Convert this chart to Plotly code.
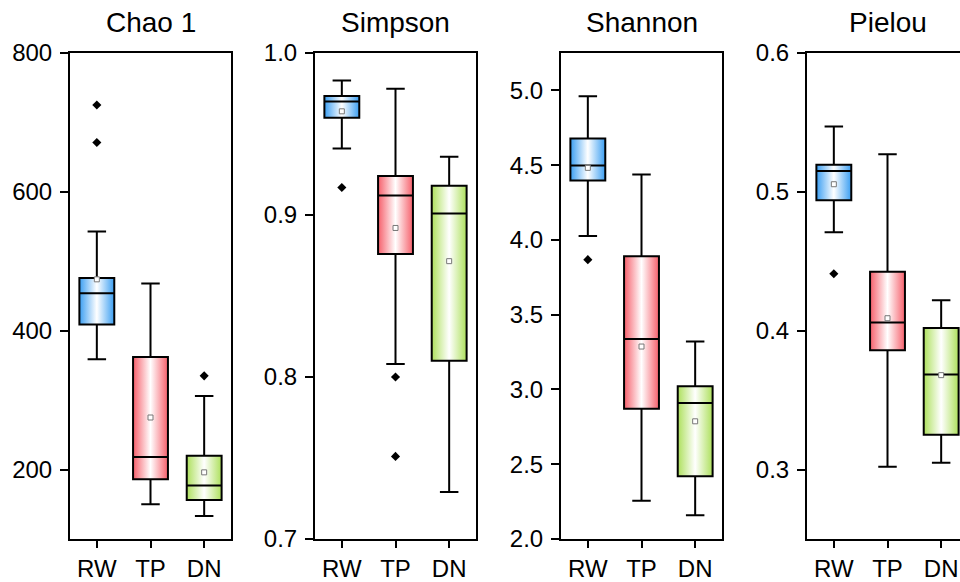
import plotly.graph_objects as go

# ---------------- data ----------------
groups = ["RW", "TP", "DN"]
titles = ["Chao 1", "Simpson", "Shannon", "Pielou"]

chao_lower = [359, 150, 133]
chao_q1 = [409, 186, 156]
chao_median = [454, 218, 177]
chao_q3 = [476, 362, 220]
chao_upper = [543, 468, 306]
chao_mean = [474, 275, 196]
chao_outliers = [[725, 671], [], [335]]
chao_ticks = [200, 400, 600, 800]
chao_ticktext = ["200", "400", "600", "800"]

simpson_lower = [0.941, 0.808, 0.729]
simpson_q1 = [0.960, 0.876, 0.810]
simpson_median = [0.970, 0.912, 0.901]
simpson_q3 = [0.9735, 0.924, 0.918]
simpson_upper = [0.983, 0.978, 0.936]
simpson_mean = [0.964, 0.892, 0.8715]
simpson_outliers = [[0.917], [0.800, 0.751], []]
simpson_ticks = [0.7, 0.8, 0.9, 1.0]
simpson_ticktext = ["0.7", "0.8", "0.9", "1.0"]

shannon_lower = [4.026, 2.255, 2.158]
shannon_q1 = [4.398, 2.871, 2.419]
shannon_median = [4.497, 3.338, 2.910]
shannon_q3 = [4.679, 3.890, 3.022]
shannon_upper = [4.960, 4.437, 3.321]
shannon_mean = [4.482, 3.287, 2.787]
shannon_outliers = [[3.868], [], []]
shannon_ticks = [2.0, 2.5, 3.0, 3.5, 4.0, 4.5, 5.0]
shannon_ticktext = ["2.0", "2.5", "3.0", "3.5", "4.0", "4.5", "5.0"]

pielou_lower = [0.471, 0.302, 0.305]
pielou_q1 = [0.494, 0.386, 0.325]
pielou_median = [0.515, 0.406, 0.3685]
pielou_q3 = [0.5195, 0.4425, 0.402]
pielou_upper = [0.547, 0.527, 0.422]
pielou_mean = [0.5055, 0.409, 0.368]
pielou_outliers = [[0.441], [], []]
pielou_ticks = [0.3, 0.4, 0.5, 0.6]
pielou_ticktext = ["0.3", "0.4", "0.5", "0.6"]

# ---------------- style ----------------
group_colors = ["#3a9ef2", "#f65f6b", "#ade05c"]
FONT = "Liberation Sans, Arial, sans-serif"
BOX_W = 0.65
W, H = 960, 582
TOP, BOTTOM = 53, 545
PX_PER_UNIT = 161 / 3.0

panels = [
    dict(lower=chao_lower, q1=chao_q1, med=chao_median, q3=chao_q3, upper=chao_upper,
         mean=chao_mean, out=chao_outliers, ticks=chao_ticks, ticktext=chao_ticktext,
         yrange=[100, 800], left=70, right=231),
    dict(lower=simpson_lower, q1=simpson_q1, med=simpson_median, q3=simpson_q3, upper=simpson_upper,
         mean=simpson_mean, out=simpson_outliers, ticks=simpson_ticks, ticktext=simpson_ticktext,
         yrange=[0.7, 1.0], left=315, right=476),
    dict(lower=shannon_lower, q1=shannon_q1, med=shannon_median, q3=shannon_q3, upper=shannon_upper,
         mean=shannon_mean, out=shannon_outliers, ticks=shannon_ticks, ticktext=shannon_ticktext,
         yrange=[2.0, 5.25], left=561, right=722),
    dict(lower=pielou_lower, q1=pielou_q1, med=pielou_median, q3=pielou_q3, upper=pielou_upper,
         mean=pielou_mean, out=pielou_outliers, ticks=pielou_ticks, ticktext=pielou_ticktext,
         yrange=[0.25, 0.6], left=807, right=968),
]

fig = go.Figure()
layout = dict(
    width=W, height=H,
    margin=dict(l=0, r=0, t=TOP, b=H - BOTTOM, pad=0),
    paper_bgcolor="white", plot_bgcolor="white",
    showlegend=False,
    font=dict(family=FONT, color="black"),
    annotations=[],
)

for i, p in enumerate(panels):
    n = i + 1
    xa, ya, ya2 = f"x{n}", f"y{n}", f"y{n + 4}"
    # gradient box bodies on base axes
    for j, g in enumerate(groups):
        x0, x1 = j - BOX_W / 2, j + BOX_W / 2
        c = group_colors[j]
        fig.add_trace(go.Scatter(
            x=[x0, x1, x1, x0, x0], y=[p["q1"][j], p["q1"][j], p["q3"][j], p["q3"][j], p["q1"][j]],
            mode="lines", fill="toself", line=dict(width=0, color="rgba(0,0,0,0)"),
            fillgradient=dict(type="horizontal",
                              colorscale=[[0, c], [0.5, "#ffffff"], [1, c]]),
            hoverinfo="skip", xaxis=xa, yaxis=ya))
    # box outlines / whiskers on overlay axes
    fig.add_trace(go.Box(
        x=[0, 1, 2], q1=p["q1"], median=p["med"], q3=p["q3"],
        lowerfence=p["lower"], upperfence=p["upper"],
        width=BOX_W, whiskerwidth=0.53, boxpoints=False,
        fillcolor="rgba(0,0,0,0)", line=dict(color="black", width=2),
        xaxis=xa, yaxis=ya2))
    # means
    fig.add_trace(go.Scatter(
        x=[0, 1, 2], y=p["mean"], mode="markers",
        marker=dict(symbol="square", size=5, color="white", line=dict(color="#777777", width=1)),
        xaxis=xa, yaxis=ya2))
    # outliers
    ox, oy = [], []
    for j, vals in enumerate(p["out"]):
        for v in vals:
            ox.append(j)
            oy.append(v)
    fig.add_trace(go.Scatter(
        x=ox, y=oy, mode="markers",
        marker=dict(symbol="diamond", size=7, color="black"),
        xaxis=xa, yaxis=ya2))

    left, right = p["left"], p["right"]
    dom_right = min(right, W)
    xr = [-0.5, -0.5 + (dom_right - left) / PX_PER_UNIT]
    axis_common = dict(showline=True, linecolor="black", linewidth=2, showgrid=False,
                       zeroline=False, ticks="outside", tickcolor="black", tickwidth=2)
    layout[f"xaxis{n}"] = dict(domain=[left / W, dom_right / W], range=xr, anchor=ya,
                               tickvals=[0, 1, 2], ticktext=groups, ticklen=7, mirror=True,
                               tickfont=dict(family=FONT, size=24, color="black"), **axis_common)
    eps = (p["yrange"][1] - p["yrange"][0]) * 1e-6
    yr = [p["yrange"][0] - eps, p["yrange"][1] + eps]
    layout[f"yaxis{n}"] = dict(domain=[0, 1], range=yr, anchor=xa,
                               tickvals=p["ticks"], ticktext=p["ticktext"], ticklen=8,
                               ticklabelstandoff=3, mirror=(right <= W),
                               tickfont=dict(family=FONT, size=24, color="black"), **axis_common)
    layout[f"yaxis{n + 4}"] = dict(overlaying=ya, range=yr, visible=False, anchor=xa,
                                   showgrid=False, zeroline=False)
    layout["annotations"].append(dict(
        text=titles[i], x=((left + right) / 2) / W, y=1 + (TOP - 22) / (BOTTOM - TOP),
        xref="paper", yref="paper", xanchor="center", yanchor="middle", showarrow=False,
        font=dict(family=FONT, size=28, color="black")))

fig.update_layout(**layout)
fig.write_html(
    "out.html",
    config={"displayModeBar": False},
    post_script="document.body.style.margin='0px';document.body.style.overflow='hidden';",
)
